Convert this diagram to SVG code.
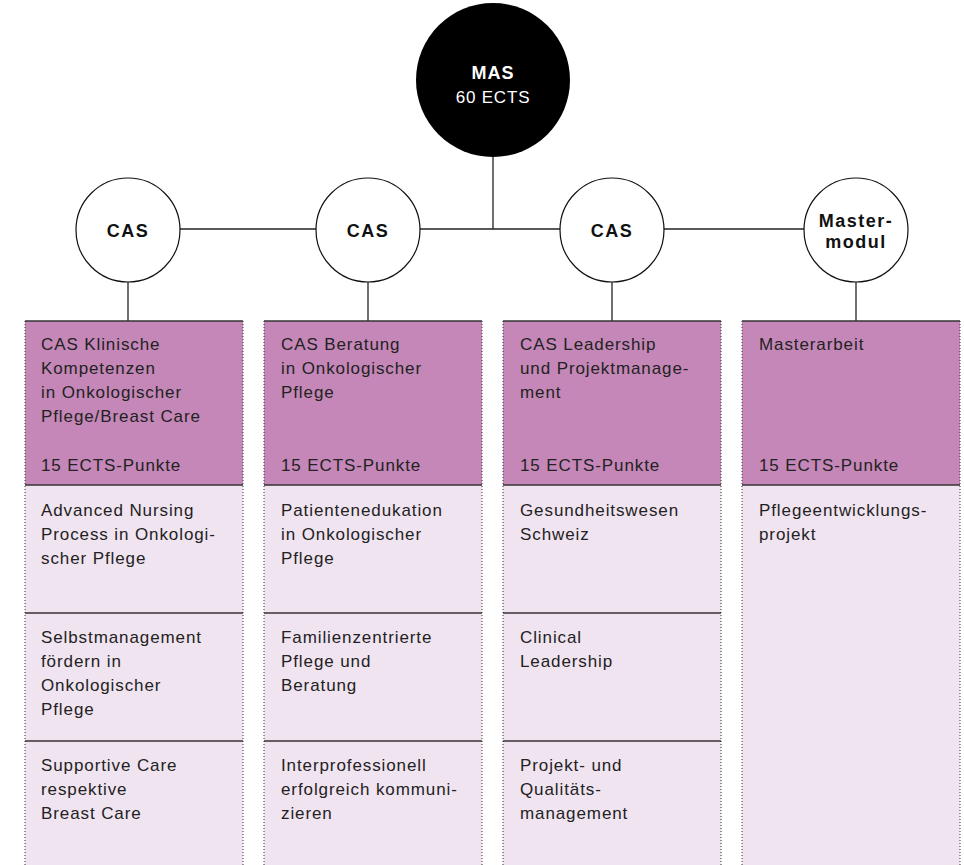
<svg xmlns="http://www.w3.org/2000/svg" width="964" height="865" viewBox="0 0 964 865">
<style>
  .t{font-family:"Liberation Sans",Arial,sans-serif;font-size:17px;letter-spacing:0.9px;fill:#222;}
  .b{font-family:"Liberation Sans",Arial,sans-serif;font-weight:bold;font-size:18px;fill:#111;text-anchor:middle;letter-spacing:1.5px;}
  .w{font-family:"Liberation Sans",Arial,sans-serif;fill:#fff;text-anchor:middle;}
  .hd{fill:#c487b8;}
  .lt{fill:#f1e4f1;}
  .sol{stroke:#333;stroke-width:1.6;fill:none;}
  .dot{stroke:#333;stroke-width:1;stroke-dasharray:1 2;fill:none;}
  .circ{fill:#fff;stroke:#111;stroke-width:1.2;}
  .con{stroke:#222;stroke-width:1.3;fill:none;}
</style>
<rect width="964" height="865" fill="#fff"/>
<g id="connectors">
  <line class="con" x1="493" y1="150" x2="493" y2="229"/>
  <line class="con" x1="128" y1="229" x2="856" y2="229"/>
  <line class="con" x1="128" y1="250" x2="128" y2="321"/>
  <line class="con" x1="368" y1="250" x2="368" y2="321"/>
  <line class="con" x1="612" y1="250" x2="612" y2="321"/>
  <line class="con" x1="856" y1="250" x2="856" y2="321"/>
</g>
<g id="mas">
  <circle cx="493" cy="80" r="77" fill="#000"/>
  <text class="w" x="493" y="79" font-weight="bold" font-size="18" letter-spacing="1">MAS</text>
  <text class="w" x="493" y="103" font-size="17" letter-spacing="0.8">60 ECTS</text>
</g>
<g id="cas1">
  <circle class="circ" cx="128" cy="230" r="52"/>
  <text class="b" x="128" y="237">CAS</text>
</g>
<g id="cas2">
  <circle class="circ" cx="368" cy="230" r="52"/>
  <text class="b" x="368" y="237">CAS</text>
</g>
<g id="cas3">
  <circle class="circ" cx="612" cy="230" r="52"/>
  <text class="b" x="612" y="237">CAS</text>
</g>
<g id="mastermodul">
  <circle class="circ" cx="856" cy="230" r="52"/>
  <text class="b" x="856" y="227">Master-</text>
  <text class="b" x="856" y="248">modul</text>
</g>

<g id="col1">
  <rect class="hd" x="25" y="321" width="218" height="164"/>
  <rect class="lt" x="25" y="485" width="218" height="380"/>
  <line class="dot" x1="25" y1="321" x2="25" y2="865"/>
  <line class="dot" x1="243" y1="321" x2="243" y2="865"/>
  <line class="sol" x1="25" y1="321" x2="243" y2="321"/>
  <line class="sol" x1="25" y1="485" x2="243" y2="485"/>
  <line class="sol" x1="25" y1="613" x2="243" y2="613"/>
  <line class="sol" x1="25" y1="741" x2="243" y2="741"/>
  <text class="t" x="41" y="350">CAS Klinische</text>
  <text class="t" x="41" y="374">Kompetenzen</text>
  <text class="t" x="41" y="398">in Onkologischer</text>
  <text class="t" x="41" y="422">Pflege/Breast Care</text>
  <text class="t" x="41" y="471">15 ECTS-Punkte</text>
  <text class="t" x="41" y="516">Advanced Nursing</text>
  <text class="t" x="41" y="540">Process in Onkologi-</text>
  <text class="t" x="41" y="564">scher Pflege</text>
  <text class="t" x="41" y="643">Selbstmanagement</text>
  <text class="t" x="41" y="667">fördern in</text>
  <text class="t" x="41" y="691">Onkologischer</text>
  <text class="t" x="41" y="715">Pflege</text>
  <text class="t" x="41" y="771">Supportive Care</text>
  <text class="t" x="41" y="795">respektive</text>
  <text class="t" x="41" y="819">Breast Care</text>
</g>

<g id="col2">
  <rect class="hd" x="264" y="321" width="218" height="164"/>
  <rect class="lt" x="264" y="485" width="218" height="380"/>
  <line class="dot" x1="264" y1="321" x2="264" y2="865"/>
  <line class="dot" x1="482" y1="321" x2="482" y2="865"/>
  <line class="sol" x1="264" y1="321" x2="482" y2="321"/>
  <line class="sol" x1="264" y1="485" x2="482" y2="485"/>
  <line class="sol" x1="264" y1="613" x2="482" y2="613"/>
  <line class="sol" x1="264" y1="741" x2="482" y2="741"/>
  <text class="t" x="281" y="350">CAS Beratung</text>
  <text class="t" x="281" y="374">in Onkologischer</text>
  <text class="t" x="281" y="398">Pflege</text>
  <text class="t" x="281" y="471">15 ECTS-Punkte</text>
  <text class="t" x="281" y="516">Patientenedukation</text>
  <text class="t" x="281" y="540">in Onkologischer</text>
  <text class="t" x="281" y="564">Pflege</text>
  <text class="t" x="281" y="643">Familienzentrierte</text>
  <text class="t" x="281" y="667">Pflege und</text>
  <text class="t" x="281" y="691">Beratung</text>
  <text class="t" x="281" y="771">Interprofessionell</text>
  <text class="t" x="281" y="795">erfolgreich kommuni-</text>
  <text class="t" x="281" y="819">zieren</text>
</g>

<g id="col3">
  <rect class="hd" x="503" y="321" width="218" height="164"/>
  <rect class="lt" x="503" y="485" width="218" height="380"/>
  <line class="dot" x1="503" y1="321" x2="503" y2="865"/>
  <line class="dot" x1="721" y1="321" x2="721" y2="865"/>
  <line class="sol" x1="503" y1="321" x2="721" y2="321"/>
  <line class="sol" x1="503" y1="485" x2="721" y2="485"/>
  <line class="sol" x1="503" y1="613" x2="721" y2="613"/>
  <line class="sol" x1="503" y1="741" x2="721" y2="741"/>
  <text class="t" x="520" y="350">CAS Leadership</text>
  <text class="t" x="520" y="374">und Projektmanage-</text>
  <text class="t" x="520" y="398">ment</text>
  <text class="t" x="520" y="471">15 ECTS-Punkte</text>
  <text class="t" x="520" y="516">Gesundheitswesen</text>
  <text class="t" x="520" y="540">Schweiz</text>
  <text class="t" x="520" y="643">Clinical</text>
  <text class="t" x="520" y="667">Leadership</text>
  <text class="t" x="520" y="771">Projekt- und</text>
  <text class="t" x="520" y="795">Qualitäts-</text>
  <text class="t" x="520" y="819">management</text>
</g>

<g id="col4">
  <rect class="hd" x="742" y="321" width="218" height="164"/>
  <rect class="lt" x="742" y="485" width="218" height="380"/>
  <line class="dot" x1="742" y1="321" x2="742" y2="865"/>
  <line class="dot" x1="960" y1="321" x2="960" y2="865"/>
  <line class="sol" x1="742" y1="321" x2="960" y2="321"/>
  <line class="sol" x1="742" y1="485" x2="960" y2="485"/>
  <text class="t" x="759" y="350">Masterarbeit</text>
  <text class="t" x="759" y="471">15 ECTS-Punkte</text>
  <text class="t" x="759" y="516">Pflegeentwicklungs-</text>
  <text class="t" x="759" y="540">projekt</text>
</g>
</svg>
